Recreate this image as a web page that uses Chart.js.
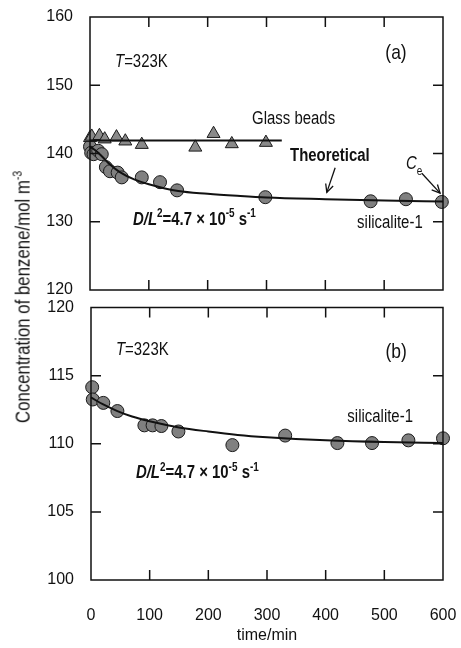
<!DOCTYPE html>
<html><head><meta charset="utf-8">
<script src="https://cdn.jsdelivr.net/npm/chart.js@4"></script>
<style>
html,body{margin:0;padding:0;background:#fff;}
#wrap{position:relative;width:461px;height:648px;overflow:hidden;}
#c1{position:absolute;left:0;top:0;}
#c2{position:absolute;left:0;top:300px;}
#ytitle{position:absolute;color:#111;white-space:nowrap;left:22px;top:297px;font-family:"Liberation Sans",Arial,sans-serif;font-size:20.5px;transform:translate(-50%,-50%) rotate(-90deg) scaleX(0.82);}
#ytitle sup{font-size:0.62em;}
</style></head>
<body>
<div id="wrap">
<canvas id="c1" width="461" height="300"></canvas>
<canvas id="c2" width="461" height="348"></canvas>
<div id="ytitle">Concentration of benzene/mol m<sup>-3</sup></div>
</div>
<script>
// ---- data ----
const xTicks = [0, 100, 200, 300, 400, 500, 600];
const yTicksA = [120, 130, 140, 150, 160];
const yTicksB = [100, 105, 110, 115, 120];

// panel (a)
const silTimeA = [0, 2, 6, 14, 20, 27, 34, 47, 54, 88, 119, 148, 298, 477, 537, 598];
const silConcA = [141.0, 140.1, 139.9, 140.4, 139.9, 138.0, 137.4, 137.2, 136.5, 136.5, 135.8, 134.6, 133.6, 133.0, 133.3, 132.9];
const glassTime = [0, 3, 16, 25, 45, 60, 88, 179, 210, 241, 299];
const glassConc = [142.3, 142.5, 142.6, 142.1, 142.4, 141.8, 141.3, 140.9, 142.9, 141.4, 141.6];
const glassLineTime = [0, 326];
const glassLineConc = [141.9, 141.9];
const theoryTimeA = [0, 10, 20, 35, 50, 75, 100, 150, 200, 250, 300, 400, 500, 600];
const theoryConcA = [141.0, 140.4, 139.6, 138.3, 137.3, 136.2, 135.5, 134.5, 134.1, 133.8, 133.55, 133.3, 133.1, 132.95];

// panel (b)
const silTimeB = [2, 3, 21, 45, 91, 105, 120, 149, 241, 331, 420, 479, 541, 600];
const silConcB = [114.15, 113.25, 113.0, 112.4, 111.35, 111.35, 111.3, 110.9, 109.9, 110.6, 110.05, 110.05, 110.25, 110.4];
const theoryTimeB = [0, 20, 45, 70, 100, 150, 200, 250, 300, 400, 500, 600];
const theoryConcB = [113.4, 112.9, 112.4, 112.0, 111.65, 111.2, 110.9, 110.65, 110.48, 110.25, 110.12, 110.06];

function pts(xs, ys) { return xs.map((x, i) => ({ x: x, y: ys[i] })); }

const FONT = '"Liberation Sans", Arial, sans-serif';
const INK = '#111';
const NOTE_SIZE = 18, BIG_SIZE = 21, CONDENSE = 0.83;

// condensed rich text (emulates the narrow face of the original)
function drawRich(ctx, x, y, parts, size, bold) {
  ctx.save();
  ctx.translate(x, y);
  ctx.scale(CONDENSE, 1);
  ctx.textBaseline = 'middle';
  ctx.textAlign = 'left';
  let cx = 0;
  for (const p of parts) {
    const small = p.sup || p.sub;
    const sz = small ? Math.round(size * 0.64) : size;
    const b = (p.bold !== undefined) ? p.bold : bold;
    ctx.font = (p.italic ? 'italic ' : '') + (b ? 'bold ' : '') + sz + 'px ' + FONT;
    const dy = p.sup ? -size * 0.33 : (p.sub ? size * 0.4 : 0);
    ctx.fillText(p.t, cx, dy);
    cx += ctx.measureText(p.t).width;
  }
  ctx.restore();
}

const framePlugin = {
  id: 'frame',
  afterDatasetsDraw(chart, args, opts) {
    const ctx = chart.ctx;
    const { left, right, top, bottom } = chart.chartArea;
    const x = chart.scales.x, y = chart.scales.y;
    ctx.save();
    ctx.strokeStyle = '#111';
    ctx.lineWidth = 1.5;
    ctx.strokeRect(left, top, right - left, bottom - top);
    const L = 10;
    ctx.beginPath();
    for (const v of opts.xTicks) {
      if (v <= x.min || v >= x.max) continue;
      const px = x.getPixelForValue(v);
      ctx.moveTo(px, top); ctx.lineTo(px, top + L);
      ctx.moveTo(px, bottom); ctx.lineTo(px, bottom - L);
    }
    for (const v of opts.yTicks) {
      if (v <= y.min || v >= y.max) continue;
      const py = y.getPixelForValue(v);
      ctx.moveTo(left, py); ctx.lineTo(left + L, py);
      ctx.moveTo(right, py); ctx.lineTo(right - L, py);
    }
    ctx.stroke();
    ctx.restore();
  }
};

const notesPlugin = {
  id: 'notes',
  afterDatasetsDraw(chart, args, opts) {
    const ctx = chart.ctx;
    const x = chart.scales.x, y = chart.scales.y;
    ctx.save();
    ctx.fillStyle = INK;
    ctx.strokeStyle = INK;
    for (const t of (opts.texts || [])) {
      const size = t.size === 'big' ? BIG_SIZE : NOTE_SIZE;
      drawRich(ctx, x.getPixelForValue(t.x), y.getPixelForValue(t.y), t.parts, size, t.bold);
    }
    for (const a of (opts.arrows || [])) {
      const x0 = x.getPixelForValue(a.x0), y0 = y.getPixelForValue(a.y0);
      const x1 = x.getPixelForValue(a.x1), y1 = y.getPixelForValue(a.y1);
      ctx.lineWidth = 1.3;
      ctx.beginPath(); ctx.moveTo(x0, y0); ctx.lineTo(x1, y1); ctx.stroke();
      const ang = Math.atan2(y1 - y0, x1 - x0), h = 9, s = 0.45;
      ctx.beginPath();
      ctx.moveTo(x1 - h * Math.cos(ang - s), y1 - h * Math.sin(ang - s));
      ctx.lineTo(x1, y1);
      ctx.lineTo(x1 - h * Math.cos(ang + s), y1 - h * Math.sin(ang + s));
      ctx.stroke();
    }
    ctx.restore();
  }
};

const dl2Parts = [
  { t: 'D/L', italic: true }, { t: '2', sup: true }, { t: '=4.7 \u00d7 10' },
  { t: '-5', sup: true }, { t: ' s' }, { t: '-1', sup: true }
];

function yScale(min, max, step, width) {
  return {
    type: 'linear', min: min, max: max,
    ticks: { stepSize: step, padding: 17, color: INK, font: { family: FONT, size: 16 } },
    grid: { display: false, drawTicks: false },
    border: { display: false },
    afterFit(s) { s.width = width; s.paddingTop = 0; s.paddingBottom = 0; }
  };
}

const circleStyle = { pointStyle: 'circle', pointRadius: 6.5, backgroundColor: '#808080', borderColor: '#1a1a1a', borderWidth: 1, clip: false, showLine: false };
const curveStyle = { type: 'line', borderColor: '#111', borderWidth: 2, pointRadius: 0, fill: false, cubicInterpolationMode: 'monotone', clip: false };

new Chart(document.getElementById('c1'), {
  type: 'scatter',
  data: {
    datasets: [
      Object.assign({ label: 'Theoretical (a)', data: pts(theoryTimeA, theoryConcA) }, curveStyle),
      Object.assign({ label: 'Glass beads line', data: pts(glassLineTime, glassLineConc) }, curveStyle),
      { label: 'Glass beads', data: pts(glassTime, glassConc), pointStyle: 'triangle', pointRadius: 7.5, backgroundColor: '#8a8a8a', borderColor: '#1a1a1a', borderWidth: 1, clip: false },
      Object.assign({ label: 'silicalite-1 (a)', data: pts(silTimeA, silConcA) }, circleStyle)
    ]
  },
  options: {
    responsive: false, animation: false,
    layout: { padding: { left: 0, right: 18, top: 17, bottom: 10 } },
    plugins: {
      legend: { display: false }, tooltip: { enabled: false },
      frame: { xTicks: xTicks, yTicks: yTicksA },
      notes: {
        texts: [
          { x: 42.5, y: 153.4, parts: [{ t: 'T', italic: true }, { t: '=323K' }] },
          { x: 502, y: 154.7, size: 'big', parts: [{ t: '(a)' }] },
          { x: 275.5, y: 145.0, parts: [{ t: 'Glass beads' }] },
          { x: 340, y: 139.6, bold: true, parts: [{ t: 'Theoretical' }] },
          { x: 537, y: 138.4, parts: [{ t: 'C', italic: true }, { t: 'e', sub: true }] },
          { x: 73, y: 130.3, bold: true, parts: dl2Parts },
          { x: 454, y: 129.8, parts: [{ t: 'silicalite-1' }] }
        ],
        arrows: [
          { x0: 416.7, y0: 137.9, x1: 402.5, y1: 134.3 },
          { x0: 564, y0: 137.1, x1: 595, y1: 134.2 }
        ]
      }
    },
    scales: {
      x: { type: 'linear', min: 0, max: 600, display: false },
      y: yScale(120, 160, 10, 90)
    }
  },
  plugins: [framePlugin, notesPlugin]
});

new Chart(document.getElementById('c2'), {
  type: 'scatter',
  data: {
    datasets: [
      Object.assign({ label: 'Theoretical (b)', data: pts(theoryTimeB, theoryConcB) }, curveStyle),
      Object.assign({ label: 'silicalite-1 (b)', data: pts(silTimeB, silConcB) }, circleStyle)
    ]
  },
  options: {
    responsive: false, animation: false,
    layout: { padding: { left: 0, right: 18, top: 7, bottom: 0 } },
    plugins: {
      legend: { display: false }, tooltip: { enabled: false },
      frame: { xTicks: xTicks, yTicks: yTicksB },
      notes: {
        texts: [
          { x: 42.5, y: 116.85, parts: [{ t: 'T', italic: true }, { t: '=323K' }] },
          { x: 502, y: 116.7, size: 'big', parts: [{ t: '(b)' }] },
          { x: 437, y: 111.94, parts: [{ t: 'silicalite-1' }] },
          { x: 76.5, y: 107.84, bold: true, parts: dl2Parts }
        ]
      }
    },
    scales: {
      x: {
        type: 'linear', min: 0, max: 600,
        ticks: { stepSize: 100, padding: 26, color: INK, font: { family: FONT, size: 16 } },
        grid: { display: false, drawTicks: false },
        border: { display: false },
        title: { display: true, text: 'time/min', color: INK, font: { family: FONT, size: 16 }, padding: { top: 0, bottom: 3 } },
        afterFit(s) { s.height = 68; s.paddingLeft = 0; s.paddingRight = 0; }
      },
      y: yScale(100, 120, 5, 91)
    }
  },
  plugins: [framePlugin, notesPlugin]
});
</script>
</body></html>
